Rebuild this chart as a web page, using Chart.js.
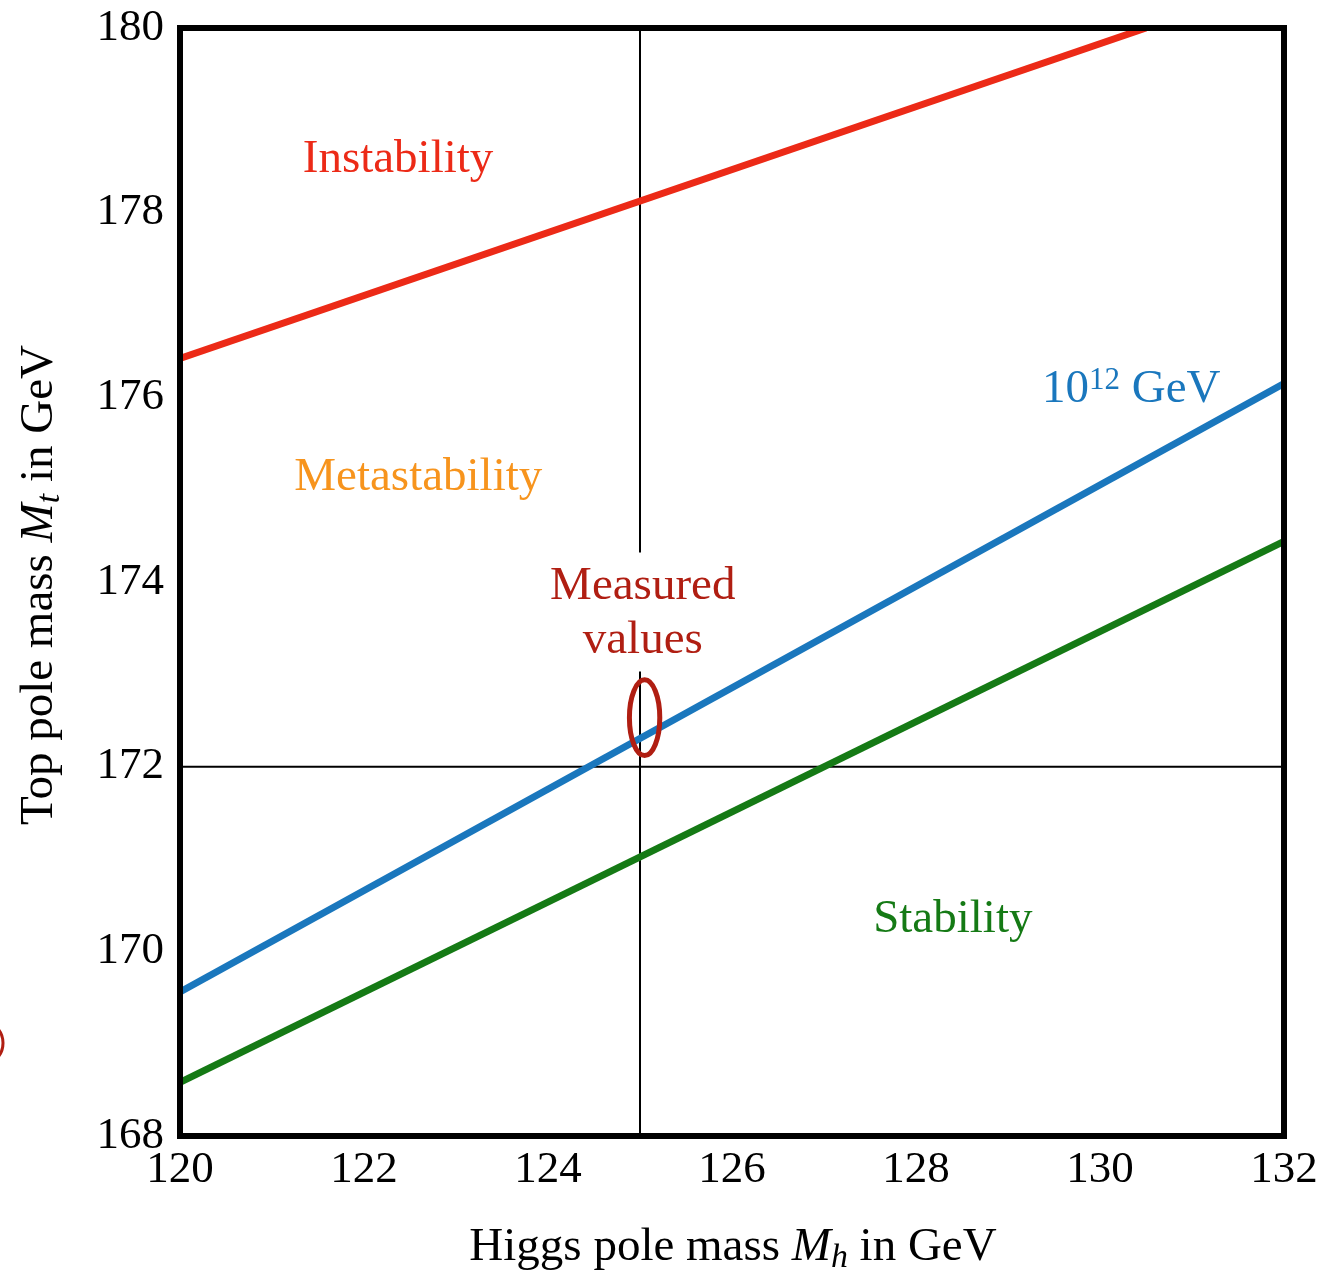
<!DOCTYPE html>
<html>
<head>
<meta charset="utf-8">
<script src="https://cdn.jsdelivr.net/npm/chart.js@4.4.1/dist/chart.umd.min.js"></script>
<style>
  html, body { margin: 0; padding: 0; background: #fff; }
  #wrap { width: 1339px; height: 1274px; }
</style>
</head>
<body>
<div id="wrap"><canvas id="chart" width="1339" height="1274"></canvas></div>
<script>
// stability boundaries (Higgs mass Mh, top mass Mt)
const instabilityMh = [120, 130.5];
const instabilityMt = [176.42, 180];
const scale12Mh = [120, 132];
const scale12Mt = [169.56, 176.15];
const stabilityMh = [120, 132];
const stabilityMt = [168.58, 174.44];

// measured values crosshair and ellipse
const measuredMh = 125;
const measuredMt = 172;
const crossUpperMt = [180, 174.32];
const crossLowerMt = [173.03, 168];
const ellipseCenter = [125.05, 172.53];
const ellipseRadius = [0.165, 0.41];

// axis ticks
const xTicks = [120, 122, 124, 126, 128, 130, 132];
const yTicks = [168, 170, 172, 174, 176, 178, 180];

// region labels
const labelTexts = ['Instability', 'Metastability', 'Measured', 'values', 'Stability'];
const labelMh = [122.37, 122.59, 125.03, 125.03, 128.4];
const labelMt = [178.57, 175.13, 173.95, 173.37, 170.34];
const labelColors = ['#ec2a17', '#f7941d', '#b01e12', '#b01e12', '#157a15'];

const serif = '"Liberation Serif", "DejaVu Serif", serif';

function pts(xs, ys) {
    return xs.map((x, i) => ({ x: x, y: ys[i] }));
}

// draws a string made of pieces (some italic / subscript), centred on 0,0
function drawMixed(ctx, pieces, size) {
    let total = 0;
    pieces.forEach(p => {
        ctx.font = (p.i ? 'italic ' : '') + (p.sub ? size * 0.72 : size) + 'px ' + serif;
        p.w = ctx.measureText(p.t).width;
        total += p.w;
    });
    let x = -total / 2;
    pieces.forEach(p => {
        ctx.font = (p.i ? 'italic ' : '') + (p.sub ? size * 0.72 : size) + 'px ' + serif;
        ctx.fillText(p.t, x, p.sub ? size * 0.22 : 0);
        x += p.w;
    });
}

const decorations = {
    id: 'decorations',
    afterDatasetsDraw(chart) {
        const ctx = chart.ctx;
        const xs = chart.scales.x, ys = chart.scales.y;
        const a = chart.chartArea;
        ctx.save();

        // measured-values ellipse
        const cx = xs.getPixelForValue(ellipseCenter[0]);
        const cy = ys.getPixelForValue(ellipseCenter[1]);
        const rx = xs.getPixelForValue(ellipseCenter[0] + ellipseRadius[0]) - cx;
        const ry = cy - ys.getPixelForValue(ellipseCenter[1] + ellipseRadius[1]);
        ctx.strokeStyle = '#b01e12';
        ctx.lineWidth = 5;
        ctx.beginPath();
        ctx.ellipse(cx, cy, rx, ry, 0, 0, Math.PI * 2);
        ctx.stroke();

        // stray red arc at the left edge of the picture
        ctx.lineWidth = 3;
        ctx.beginPath();
        ctx.ellipse(-12, 1043, 15, 19, 0, -Math.PI / 2, Math.PI / 2);
        ctx.stroke();

        // frame
        ctx.strokeStyle = '#000';
        ctx.lineWidth = 6;
        ctx.strokeRect(a.left, a.top, a.right - a.left, a.bottom - a.top);

        // region labels
        ctx.textAlign = 'center';
        ctx.textBaseline = 'middle';
        ctx.font = '47px ' + serif;
        labelTexts.forEach((t, i) => {
            ctx.fillStyle = labelColors[i];
            ctx.fillText(t, xs.getPixelForValue(labelMh[i]), ys.getPixelForValue(labelMt[i]));
        });

        // 10^12 GeV label
        ctx.fillStyle = '#1a77bd';
        ctx.textAlign = 'left';
        const lx = xs.getPixelForValue(129.37);
        const ly = ys.getPixelForValue(176.08);
        ctx.font = '47px ' + serif;
        ctx.fillText('10', lx, ly);
        let w = ctx.measureText('10').width;
        ctx.font = '31px ' + serif;
        ctx.fillText('12', lx + w, ly - 9);
        w += ctx.measureText('12').width;
        ctx.font = '47px ' + serif;
        ctx.fillText(' GeV', lx + w, ly);

        // axis titles
        ctx.fillStyle = '#000';
        ctx.textAlign = 'left';
        ctx.textBaseline = 'middle';
        ctx.save();
        ctx.translate((a.left + a.right) / 2 + 1, 1248);
        drawMixed(ctx, [
            { t: 'Higgs pole mass ' },
            { t: 'M', i: true },
            { t: 'h', i: true, sub: true },
            { t: ' in GeV' }
        ], 47);
        ctx.restore();

        ctx.save();
        ctx.translate(40, (a.top + a.bottom) / 2 + 3);
        ctx.rotate(-Math.PI / 2);
        drawMixed(ctx, [
            { t: 'Top pole mass ' },
            { t: 'M', i: true },
            { t: 't', i: true, sub: true },
            { t: ' in GeV' }
        ], 47);
        ctx.restore();

        ctx.restore();
    }
};

const lineStyle = { showLine: true, pointRadius: 0, pointHoverRadius: 0, fill: false, order: 1, borderWidth: 7 };
const crossStyle = { showLine: true, pointRadius: 0, pointHoverRadius: 0, fill: false, order: 2, borderWidth: 2, borderColor: '#000' };

new Chart(document.getElementById('chart').getContext('2d'), {
    type: 'scatter',
    data: {
        datasets: [
            Object.assign({ label: 'Instability', data: pts(instabilityMh, instabilityMt), borderColor: '#ec2a17' }, lineStyle),
            Object.assign({ label: '10^12 GeV', data: pts(scale12Mh, scale12Mt), borderColor: '#1a77bd' }, lineStyle),
            Object.assign({ label: 'Stability', data: pts(stabilityMh, stabilityMt), borderColor: '#157a15' }, lineStyle),
            Object.assign({ label: 'Mh upper', data: pts([measuredMh, measuredMh], crossUpperMt) }, crossStyle),
            Object.assign({ label: 'Mh lower', data: pts([measuredMh, measuredMh], crossLowerMt) }, crossStyle),
            Object.assign({ label: 'Mt', data: pts([xTicks[0], xTicks[xTicks.length - 1]], [measuredMt, measuredMt]) }, crossStyle)
        ]
    },
    options: {
        responsive: false,
        animation: false,
        layout: { padding: { top: 28, right: 55, left: 0, bottom: 0 } },
        plugins: {
            legend: { display: false },
            tooltip: { enabled: false },
            title: { display: false }
        },
        scales: {
            x: {
                type: 'linear',
                min: xTicks[0],
                max: xTicks[xTicks.length - 1],
                afterBuildTicks: s => { s.ticks = xTicks.map(v => ({ value: v })); },
                afterFit: s => { s.height = 138; s.paddingLeft = 0; s.paddingRight = 0; },
                grid: { display: false, drawTicks: false },
                border: { display: false },
                ticks: { color: '#000', padding: 12, font: { family: serif, size: 45, lineHeight: 1 }, maxRotation: 0 }
            },
            y: {
                type: 'linear',
                min: yTicks[0],
                max: yTicks[yTicks.length - 1],
                afterBuildTicks: s => { s.ticks = yTicks.map(v => ({ value: v })); },
                afterFit: s => { s.width = 180; s.paddingTop = 0; s.paddingBottom = 0; },
                grid: { display: false, drawTicks: false },
                border: { display: false },
                ticks: { color: '#000', padding: 16, font: { family: serif, size: 45, lineHeight: 1 } }
            }
        }
    },
    plugins: [decorations]
});
</script>
</body>
</html>
